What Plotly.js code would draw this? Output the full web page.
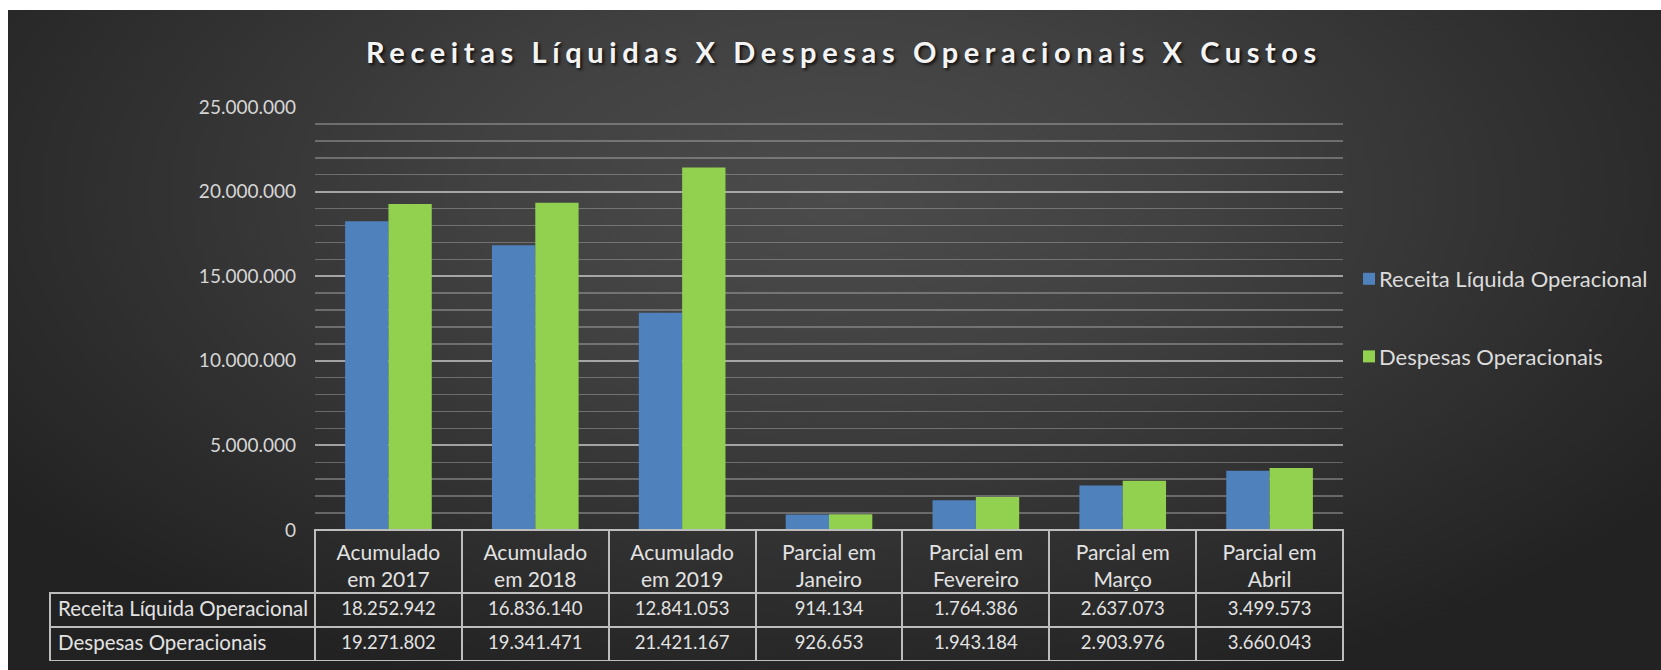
<!DOCTYPE html>
<html>
<head>
<meta charset="utf-8">
<script src="https://cdn.plot.ly/plotly-3.0.1.min.js"></script>
<style>
html, body { margin: 0; padding: 0; background: #ffffff; }
#chart {
  position: absolute; left: 8px; top: 10px; width: 1653px; height: 660px;
  background: radial-gradient(ellipse 62% 80% at 50% 28%, #4b4b4b 0%, #414141 35%, #2f2f2f 72%, #222222 100%);
}
#chart .gtitle { letter-spacing: 5.6px; }
#chart .legend .legendtext { transform: translateX(-10px); }
</style>
</head>
<body>
<div id="chart"></div>
<script>
// ---- data ----
const categories = [
  'Acumulado<br>em 2017',
  'Acumulado<br>em 2018',
  'Acumulado<br>em 2019',
  'Parcial em<br>Janeiro',
  'Parcial em<br>Fevereiro',
  'Parcial em<br>Março',
  'Parcial em<br>Abril'
];
const receitaLiquida = [18252942, 16836140, 12841053, 914134, 1764386, 2637073, 3499573];
const despesasOperacionais = [19271802, 19341471, 21421167, 926653, 1943184, 2903976, 3660043];
const seriesNames = ['Receita Líquida Operacional', 'Despesas Operacionais'];
const chartTitle = 'Receitas Líquidas X Despesas Operacionais X Custos';

// ---- helpers ----
const fmt = n => String(n).replace(/\B(?=(\d{3})+(?!\d))/g, '.');
const noWrap = s => s.replace(/ /g, '\u00a0');
const FONT = 'Lato, "Open Sans", sans-serif';
const TXT = '#e2e2e2';
const BLUE = '#4f81bd';
const GREEN = '#92d050';
const BORDER = '#bdbdbd';

// plot-area geometry (inside margins)
const W = 1653, H = 660;
const mL = 42, mR = 318, mT = 97, mB = 9;
const areaW = W - mL - mR;   // 1293
const areaH = H - mT - mB;   // 554
const firstColW = 265;
const headerH = 63, rowH = 34;
const tableH = headerH + 2 * rowH;
const xStart = firstColW / areaW;
const yStart = tableH / areaH;

const traceReceita = {
  type: 'bar', name: seriesNames[0], x: categories, y: receitaLiquida,
  marker: { color: BLUE }, legendgroup: 'a', hoverinfo: 'skip'
};
const traceDespesas = {
  type: 'bar', name: seriesNames[1], x: categories, y: despesasOperacionais,
  marker: { color: GREEN }, legendgroup: 'b', hoverinfo: 'skip'
};

const colWidths = [firstColW].concat(categories.map(() => (areaW - firstColW) / categories.length));
const headerLineColors = ['rgba(0,0,0,0)'].concat(categories.map(() => BORDER));

const table = {
  type: 'table',
  domain: { x: [0, 1], y: [0, yStart] },
  columnwidth: colWidths,
  header: {
    values: [''].concat(categories.map(() => '')),
    height: headerH,
    fill: { color: 'rgba(0,0,0,0)' },
    line: { color: headerLineColors, width: 2 },
    font: { family: FONT, size: 20, color: TXT }
  },
  cells: {
    values: [seriesNames.map(noWrap)].concat(categories.map((c, i) => [fmt(receitaLiquida[i]), fmt(despesasOperacionais[i])])),
    height: rowH,
    align: ['left'].concat(categories.map(() => 'center')),
    fill: { color: 'rgba(0,0,0,0)' },
    line: { color: BORDER, width: 2 },
    font: {
      family: FONT,
      size: [20.5].concat(categories.map(() => 18.5)),
      color: TXT
    }
  },
  hoverinfo: 'skip'
};

const layout = {
  width: W, height: H,
  paper_bgcolor: 'rgba(0,0,0,0)',
  plot_bgcolor: 'rgba(0,0,0,0)',
  margin: { l: mL, r: mR, t: mT, b: mB, pad: 0, autoexpand: false },
  separators: ',.',
  font: { family: FONT, color: TXT },
  title: {
    text: chartTitle,
    xref: 'container', yref: 'container',
    x: 836 / W, xanchor: 'center',
    y: 1 - 43 / H, yanchor: 'middle',
    font: { family: FONT, size: 29, weight: 'bold', color: '#f4f4f4', shadow: '2px 2px 3px rgba(0,0,0,0.75)' }
  },
  barmode: 'group',
  bargap: 0.41,
  bargroupgap: 0,
  xaxis: {
    type: 'category', domain: [xStart, 1],
    showticklabels: true, ticks: '', ticklabelstandoff: 8,
    tickfont: { family: FONT, size: 21, color: TXT },
    tickangle: 0,
    showgrid: false, zeroline: false, showline: false,
    fixedrange: true
  },
  yaxis: {
    domain: [yStart, 1],
    range: [0, 25000000],
    tick0: 0, dtick: 5000000,
    tickformat: ',d',
    ticks: '',
    ticklabelstandoff: 18,
    tickfont: { family: FONT, size: 19, color: '#d6d6d6' },
    showgrid: true, gridcolor: 'rgba(205,205,205,0.72)', gridwidth: 2,
    minor: { dtick: 1000000, showgrid: true, gridcolor: 'rgba(175,175,175,0.45)', gridwidth: 1.5 },
    zeroline: false, showline: false,
    fixedrange: true
  },
  showlegend: true,
  legend: {
    x: (1341 - mL) / areaW, xanchor: 'left',
    y: 1 - (248 - mT) / areaH, yanchor: 'top',
    bgcolor: 'rgba(0,0,0,0)',
    traceorder: 'grouped',
    tracegroupgap: 46,
    font: { family: FONT, size: 22, color: '#dcdcdc' }
  },
  hovermode: false
};

Plotly.newPlot('chart', [traceReceita, traceDespesas, table], layout, { displayModeBar: false, staticPlot: true });
</script>
</body>
</html>
